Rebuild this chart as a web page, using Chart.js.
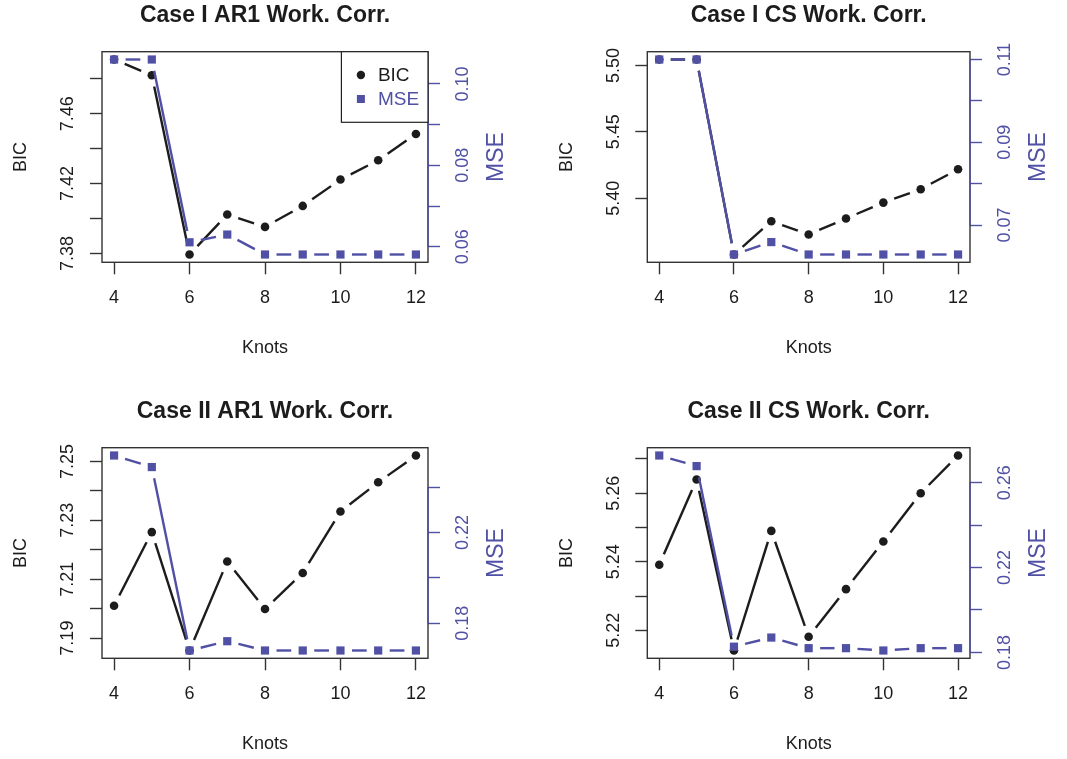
<!DOCTYPE html>
<html>
<head>
<meta charset="utf-8">
<title>BIC / MSE by knots</title>
<script src="https://cdn.jsdelivr.net/npm/chart.js@4.4.1/dist/chart.umd.min.js"></script>
<style>
  html, body { margin: 0; padding: 0; background: #fff; overflow: hidden; }
  .panel { position: absolute; }
</style>
</head>
<body>
<div class="panel" style="left:0;top:0;width:533px;height:363px"><canvas id="c1"></canvas></div>
<div class="panel" style="left:533px;top:0;width:534px;height:363px"><canvas id="c2"></canvas></div>
<div class="panel" style="left:0;top:396px;width:533px;height:363px"><canvas id="c3"></canvas></div>
<div class="panel" style="left:533px;top:396px;width:534px;height:363px"><canvas id="c4"></canvas></div>
<script>
/* values */
var knots = [4, 5, 6, 7, 8, 9, 10, 11, 12];
var knotTicks = [4, 6, 8, 10, 12];

var bicCaseIAr1 = [7.491, 7.482, 7.3794, 7.4023, 7.3952, 7.4072, 7.4223, 7.4333, 7.4484];
var mseCaseIAr1 = [0.1060, 0.1060, 0.0611, 0.0630, 0.0581, 0.0581, 0.0581, 0.0581, 0.0581];

var bicCaseICs = [5.5045, 5.5045, 5.3576, 5.3827, 5.3727, 5.3847, 5.3967, 5.4068, 5.4218];
var mseCaseICs = [0.1100, 0.1100, 0.0629, 0.0659, 0.0629, 0.0629, 0.0629, 0.0629, 0.0629];

var bicCaseIIAr1 = [7.2010, 7.2260, 7.1858, 7.2160, 7.1999, 7.2121, 7.2330, 7.2429, 7.2520];
var mseCaseIIAr1 = [0.2540, 0.2489, 0.1680, 0.1721, 0.1680, 0.1680, 0.1680, 0.1680, 0.1680];

var bicCaseIICs = [5.2391, 5.2640, 5.2141, 5.2490, 5.2181, 5.2320, 5.2459, 5.2600, 5.2710];
var mseCaseIICs = [0.2728, 0.2678, 0.1827, 0.1870, 0.1820, 0.1820, 0.1809, 0.1820, 0.1820];

/* tick positions and which of them carry a label */
var bicTicks1 = [7.38, 7.40, 7.42, 7.44, 7.46, 7.48], bicLabels1 = ['7.38', '7.42', '7.46'];
var mseTicks1 = [0.06, 0.07, 0.08, 0.09, 0.10], mseLabels1 = ['0.06', '0.08', '0.10'];
var bicTicks2 = [5.40, 5.45, 5.50], bicLabels2 = ['5.40', '5.45', '5.50'];
var mseTicks2 = [0.07, 0.08, 0.09, 0.10, 0.11], mseLabels2 = ['0.07', '0.09', '0.11'];
var bicTicks3 = [7.19, 7.20, 7.21, 7.22, 7.23, 7.24, 7.25], bicLabels3 = ['7.19', '7.21', '7.23', '7.25'];
var mseTicks3 = [0.18, 0.20, 0.22, 0.24], mseLabels3 = ['0.18', '0.22'];
var bicTicks4 = [5.22, 5.23, 5.24, 5.25, 5.26, 5.27], bicLabels4 = ['5.22', '5.24', '5.26'];
var mseTicks4 = [0.18, 0.20, 0.22, 0.24, 0.26], mseLabels4 = ['0.18', '0.22', '0.26'];

var INK = '#1c1c1c';
var BLUE = '#5050a5';
Chart.defaults.font.family = "'Liberation Sans', Arial, Helvetica, sans-serif";
Chart.defaults.color = INK;

/* R-style axis range: data range plus 4% on each side */
function rRange(arr) {
  var lo = Math.min.apply(null, arr), hi = Math.max.apply(null, arr);
  var pad = (hi - lo) * 0.04;
  return { min: lo - pad, max: hi + pad };
}

/* box, type="b" gapped lines, right axis line, MSE title, legend */
var rStyle = {
  id: 'rStyle',
  beforeDatasetsDraw: function (chart) {
    var a = chart.chartArea, ctx = chart.ctx;
    ctx.save();
    ctx.strokeStyle = '#333';
    ctx.lineWidth = 1.4;
    ctx.strokeRect(a.left, a.top, a.right - a.left, a.bottom - a.top);
    ctx.restore();
  },
  beforeDatasetDraw: function (chart, args) {
    var pts = args.meta.data, ds = chart.data.datasets[args.index];
    var gap = 11.5, ctx = chart.ctx;
    ctx.save();
    ctx.strokeStyle = ds.borderColor;
    ctx.lineWidth = 2.4;
    ctx.lineCap = 'butt';
    for (var i = 0; i < pts.length - 1; i++) {
      var x0 = pts[i].x, y0 = pts[i].y, x1 = pts[i + 1].x, y1 = pts[i + 1].y;
      var len = Math.hypot(x1 - x0, y1 - y0);
      if (len <= 2 * gap) continue;
      var ux = (x1 - x0) / len, uy = (y1 - y0) / len;
      ctx.beginPath();
      ctx.moveTo(x0 + ux * gap, y0 + uy * gap);
      ctx.lineTo(x1 - ux * gap, y1 - uy * gap);
      ctx.stroke();
    }
    ctx.restore();
  },
  afterDraw: function (chart, args, opts) {
    var a = chart.chartArea, ctx = chart.ctx, y1 = chart.scales.y1;
    var tk = y1.ticks;
    ctx.save();
    ctx.strokeStyle = BLUE;
    ctx.lineWidth = 1.4;
    ctx.beginPath();
    ctx.moveTo(a.right, y1.getPixelForValue(tk[0].value));
    ctx.lineTo(a.right, y1.getPixelForValue(tk[tk.length - 1].value));
    ctx.stroke();

    ctx.fillStyle = BLUE;
    ctx.font = "23px 'Liberation Sans', Arial, sans-serif";
    ctx.textAlign = 'center';
    ctx.textBaseline = 'middle';
    ctx.translate(a.right + 68.5, (a.top + a.bottom) / 2);
    ctx.rotate(-Math.PI / 2);
    ctx.fillText('MSE', 0, 0);
    ctx.restore();

    if (opts.legend) {
      var dsets = chart.data.datasets;
      var w = 86.6, h = 70.6, L = a.right - w, T = a.top;
      ctx.save();
      ctx.fillStyle = '#fff';
      ctx.fillRect(L, T, w, h);
      ctx.strokeStyle = '#222';
      ctx.lineWidth = 1.2;
      ctx.strokeRect(L, T, w, h);
      ctx.font = "19px 'Liberation Sans', Arial, sans-serif";
      ctx.textBaseline = 'middle';
      ctx.textAlign = 'left';
      dsets.forEach(function (d, i) {
        var cy = T + 23.3 + i * 24, cx = L + 19.5;
        ctx.fillStyle = d.backgroundColor;
        if (d.pointStyle === 'rect') ctx.fillRect(cx - 4, cy - 4, 8, 8);
        else { ctx.beginPath(); ctx.arc(cx, cy, 4.2, 0, Math.PI * 2); ctx.fill(); }
        ctx.fillStyle = d.labelColor;
        ctx.fillText(d.label, L + 36.5, cy + 1);
      });
      ctx.restore();
    }
  }
};

function makePanel(cfg) {
  var xr = rRange(knots), br = rRange(cfg.bic), mr = rRange(cfg.mse);
  function tickLabeller(labels) {
    return function (v) { var s = Number(v).toFixed(2); return labels.indexOf(s) >= 0 ? s : ''; };
  }
  return new Chart(document.getElementById(cfg.canvas), {
    type: 'line',
    data: {
      labels: knots,
      datasets: [
        { label: 'BIC', data: cfg.bic, yAxisID: 'y', order: 2, showLine: false,
          borderColor: INK, backgroundColor: INK, labelColor: INK,
          pointStyle: 'circle', pointRadius: 4.3, pointBorderWidth: 0, clip: false },
        { label: 'MSE', data: cfg.mse, yAxisID: 'y1', order: 1, showLine: false,
          borderColor: BLUE, backgroundColor: BLUE, labelColor: BLUE,
          pointStyle: 'rect', pointRadius: 5.8, pointBorderWidth: 0, clip: false }
      ]
    },
    options: {
      responsive: true,
      maintainAspectRatio: false,
      animation: false,
      devicePixelRatio: 1,
      layout: { padding: 0 },
      plugins: {
        legend: { display: false },
        tooltip: { enabled: false },
        title: {
          display: true, text: cfg.title, fullSize: false, color: INK,
          font: { size: 23, weight: 'bold', lineHeight: 1 },
          padding: { top: 4.5, bottom: 24.2 }
        },
        rStyle: { legend: !!cfg.legend }
      },
      scales: {
        x: {
          type: 'linear', position: 'bottom', min: xr.min, max: xr.max,
          afterBuildTicks: function (s) { s.ticks = knotTicks.map(function (v) { return { value: v }; }); },
          afterFit: function (s) { s.height = 100.7; },
          ticks: { autoSkip: false, font: { size: 18 }, color: INK, padding: 12.9, maxRotation: 0,
                   callback: function (v) { return String(v); } },
          grid: { drawOnChartArea: false, tickLength: 12, tickWidth: 1.4, tickColor: '#333' },
          border: { display: false },
          title: { display: true, text: 'Knots', font: { size: 18 }, color: INK, padding: { top: 0, bottom: 4.5 } }
        },
        y: {
          type: 'linear', position: 'left', min: br.min, max: br.max,
          afterBuildTicks: function (s) { s.ticks = cfg.bicTicks.map(function (v) { return { value: v }; }); },
          afterFit: function (s) { s.width = cfg.leftW; },
          ticks: { autoSkip: false, font: { size: 18 }, color: INK, minRotation: 90, maxRotation: 90,
                   crossAlign: 'center', padding: 4, callback: tickLabeller(cfg.bicLabels) },
          grid: { drawOnChartArea: false, tickLength: 12, tickWidth: 1.4, tickColor: '#333' },
          border: { display: false },
          title: { display: true, text: 'BIC', font: { size: 18 }, color: INK, padding: { top: cfg.bicTitlePad, bottom: 0 } }
        },
        y1: {
          type: 'linear', position: 'right', min: mr.min, max: mr.max,
          afterBuildTicks: function (s) { s.ticks = cfg.mseTicks.map(function (v) { return { value: v }; }); },
          afterFit: function (s) { s.width = cfg.rightW; },
          ticks: { autoSkip: false, font: { size: 18 }, color: BLUE, minRotation: 90, maxRotation: 90,
                   crossAlign: 'center', padding: 6, callback: tickLabeller(cfg.mseLabels) },
          grid: { drawOnChartArea: false, tickLength: 12, tickWidth: 1.4, tickColor: BLUE },
          border: { display: false },
          title: { display: false }
        }
      }
    },
    plugins: [rStyle]
  });
}

makePanel({ canvas: 'c1', title: 'Case I AR1 Work. Corr.', bic: bicCaseIAr1, mse: mseCaseIAr1,
  bicTicks: bicTicks1, bicLabels: bicLabels1, mseTicks: mseTicks1, mseLabels: mseLabels1,
  leftW: 102, rightW: 105, bicTitlePad: 10, legend: true });
makePanel({ canvas: 'c2', title: 'Case I CS Work. Corr.', bic: bicCaseICs, mse: mseCaseICs,
  bicTicks: bicTicks2, bicLabels: bicLabels2, mseTicks: mseTicks2, mseLabels: mseLabels2,
  leftW: 114.3, rightW: 97, bicTitlePad: 22.9 });
makePanel({ canvas: 'c3', title: 'Case II AR1 Work. Corr.', bic: bicCaseIIAr1, mse: mseCaseIIAr1,
  bicTicks: bicTicks3, bicLabels: bicLabels3, mseTicks: mseTicks3, mseLabels: mseLabels3,
  leftW: 102, rightW: 105, bicTitlePad: 10 });
makePanel({ canvas: 'c4', title: 'Case II CS Work. Corr.', bic: bicCaseIICs, mse: mseCaseIICs,
  bicTicks: bicTicks4, bicLabels: bicLabels4, mseTicks: mseTicks4, mseLabels: mseLabels4,
  leftW: 114.3, rightW: 97, bicTitlePad: 22.9 });
</script>
</body>
</html>
